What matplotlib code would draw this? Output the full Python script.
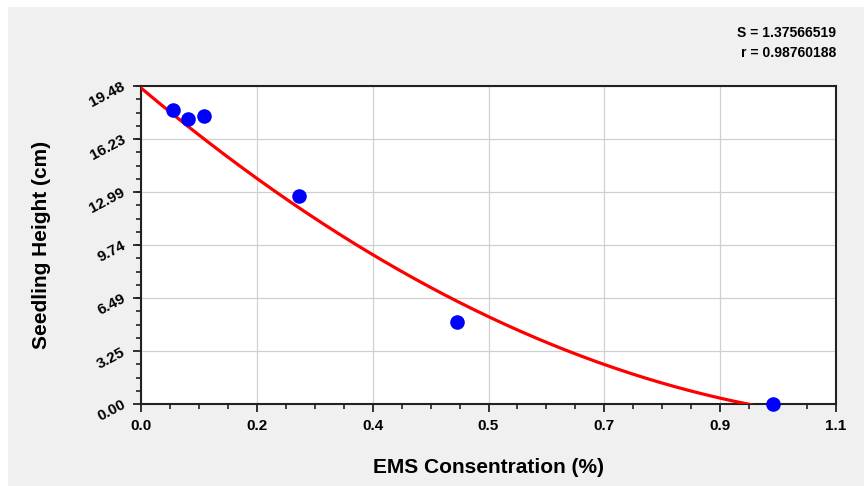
import numpy as np
import matplotlib
matplotlib.use("Agg")
import matplotlib.pyplot as plt
from matplotlib.patches import Rectangle
from matplotlib.ticker import FixedLocator, AutoMinorLocator

# Data
ems_conc = [0.05, 0.075, 0.1, 0.25, 0.5, 1.0]
seedling_height = [18.0, 17.45, 17.65, 12.75, 5.0, 0.0]
# fitted curve coefficients (constant, linear, quadratic)
fit_coefficients = [19.36, -32.59, 12.94]
x_ticks = [0.0, 1.1/6, 2.2/6, 0.55, 4.4/6, 5.5/6, 1.1]
x_tick_labels = ["0.0", "0.2", "0.4", "0.5", "0.7", "0.9", "1.1"]
y_ticks = [0.0, 3.246, 6.493, 9.74, 12.986, 16.233, 19.48]
y_tick_labels = ["0.00", "3.25", "6.49", "9.74", "12.99", "16.23", "19.48"]
stat_text = ["S = 1.37566519", "r = 0.98760188"]

plt.rcParams['font.family'] = ['Liberation Sans', 'DejaVu Sans']

W, H = 864, 486
fig = plt.figure(figsize=(W/100, H/100), dpi=100, facecolor='white')
fig.patches.append(Rectangle((8/W, 0), 1 - 8/W, 1 - 7/H, transform=fig.transFigure,
                             facecolor='#f0f0f0', edgecolor='none', zorder=-10))

ax = fig.add_axes([141/W, 1 - 404/H, (836-141)/W, (404-86)/H])
ax.set_zorder(1)
ax.set_facecolor('white')

# fitted curve
xs = np.linspace(0, 1.1, 500)
ys = np.polyval(fit_coefficients[::-1], xs)
mask = ys >= -0.05
ax.plot(xs[mask], ys[mask], color='#ff0000', lw=2.3, zorder=3, clip_on=True)

ax.plot(ems_conc, seedling_height, 'o', color='#0000ff', markersize=10.5,
        markeredgewidth=0, zorder=4, clip_on=False)

ax.set_xlim(0, 1.1)
ax.set_ylim(0, 19.48)
ax.xaxis.set_major_locator(FixedLocator(x_ticks))
ax.yaxis.set_major_locator(FixedLocator(y_ticks))
ax.set_xticklabels(x_tick_labels, fontsize=11, fontweight='bold')
ax.set_yticklabels(y_tick_labels, fontsize=11, fontweight='bold', rotation=28,
                   rotation_mode='anchor', ha='right', va='center')
ax.xaxis.set_minor_locator(AutoMinorLocator(4))
ax.yaxis.set_minor_locator(AutoMinorLocator(4))
ax.tick_params(which='major', direction='out', length=6, width=1.3, color='#222222', pad=5)
ax.tick_params(which='minor', direction='out', length=3.5, width=1.2, color='#222222')
ax.tick_params(axis='y', which='major', pad=6)
ax.grid(True, which='major', color='#d0d0d0', lw=0.9)
ax.set_axisbelow(True)
for sp in ax.spines.values():
    sp.set_color('#222222')
    sp.set_linewidth(1.5)

ax.set_xlabel('EMS Consentration (%)', fontsize=15, fontweight='bold', labelpad=18)
ax.set_ylabel('Seedling Height (cm)', fontsize=15, fontweight='bold', labelpad=26)

fig.text(836/W, 1 - 33/H, stat_text[0], ha='right', va='center', fontsize=10, fontweight='bold')
fig.text(836/W, 1 - 53/H, stat_text[1], ha='right', va='center', fontsize=10, fontweight='bold')

fig.savefig('out.png', dpi=100, facecolor=fig.get_facecolor())
